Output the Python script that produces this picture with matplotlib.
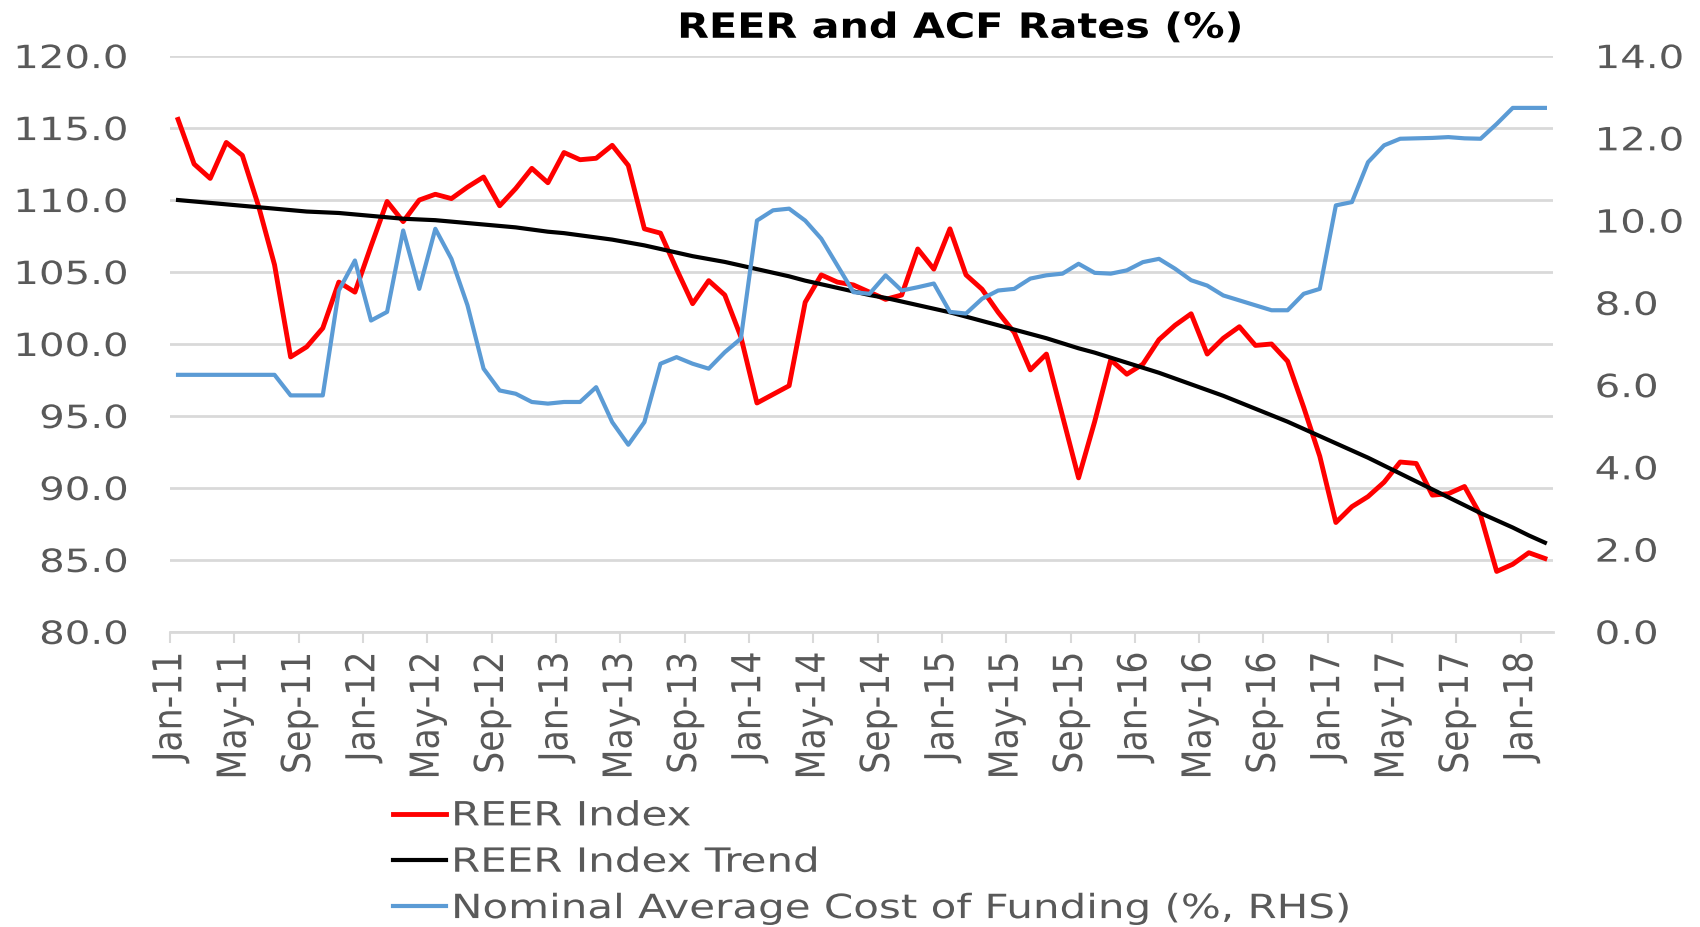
import matplotlib
matplotlib.use("Agg")
import matplotlib.pyplot as plt
import matplotlib.patheffects as pe
from matplotlib.transforms import Affine2D
import numpy as np

# monthly data, Jan-11 .. Feb-18
months = ["Jan", "Feb", "Mar", "Apr", "May", "Jun", "Jul", "Aug", "Sep", "Oct", "Nov", "Dec"]
dates = [f"{months[i % 12]}-{11 + i // 12}" for i in range(86)]

reer = [115.6, 112.5, 111.5, 114.0, 113.1, 109.6, 105.5, 99.1, 99.8, 101.1,
        104.3, 103.6, 106.8, 109.9, 108.5, 110.0, 110.4, 110.1, 110.9, 111.6,
        109.6, 110.8, 112.2, 111.2, 113.3, 112.8, 112.9, 113.8, 112.4, 108.0,
        107.7, 105.2, 102.8, 104.4, 103.4, 100.5, 95.9, 96.5, 97.1, 102.9,
        104.8, 104.3, 104.1, 103.6, 103.1, 103.4, 106.6, 105.2, 108.0, 104.8,
        103.8, 102.2, 100.8, 98.2, 99.3, 95.0, 90.7, 94.6, 98.9, 97.9,
        98.6, 100.3, 101.3, 102.1, 99.3, 100.4, 101.2, 99.9, 100.0, 98.8,
        95.6, 92.2, 87.6, 88.7, 89.4, 90.4, 91.8, 91.7, 89.5, 89.6,
        90.1, 88.1, 84.2, 84.7, 85.5, 85.1]

trend = [110.0, 109.9, 109.8, 109.7, 109.6, 109.5, 109.4, 109.3, 109.2, 109.15,
         109.1, 109.0, 108.9, 108.8, 108.7, 108.65, 108.6, 108.5, 108.4, 108.3,
         108.2, 108.1, 107.95, 107.8, 107.7, 107.55, 107.4, 107.25, 107.05, 106.85,
         106.6, 106.35, 106.1, 105.9, 105.7, 105.45, 105.2, 104.95, 104.7, 104.4,
         104.15, 103.9, 103.65, 103.4, 103.2, 102.95, 102.7, 102.45, 102.2, 101.9,
         101.6, 101.3, 101.0, 100.7, 100.4, 100.05, 99.7, 99.4, 99.05, 98.7,
         98.35, 98.0, 97.6, 97.2, 96.8, 96.4, 95.95, 95.5, 95.05, 94.6,
         94.1, 93.6, 93.1, 92.6, 92.1, 91.55, 91.0, 90.45, 89.9, 89.35,
         88.8, 88.25, 87.75, 87.25, 86.7, 86.2]

acf = [6.25, 6.25, 6.25, 6.25, 6.25, 6.25, 6.25, 5.75, 5.75, 5.75,
       8.3, 9.03, 7.57, 7.78, 9.76, 8.34, 9.8, 9.07, 7.94, 6.4,
       5.87, 5.79, 5.59, 5.55, 5.59, 5.59, 5.95, 5.1, 4.55, 5.1,
       6.52, 6.68, 6.52, 6.4, 6.8, 7.13, 10.0, 10.25, 10.29, 10.0,
       9.56, 8.91, 8.26, 8.22, 8.67, 8.3, 8.38, 8.47, 7.78, 7.74,
       8.1, 8.3, 8.34, 8.59, 8.67, 8.71, 8.95, 8.73, 8.71, 8.79,
       8.99, 9.07, 8.83, 8.55, 8.42, 8.18, 8.06, 7.94, 7.82, 7.82,
       8.22, 8.34, 10.37, 10.45, 11.42, 11.83, 11.99, 12.0, 12.01, 12.03,
       12.0, 11.99, 12.35, 12.74, 12.74, 12.74]

grey = "#595959"
plt.rcParams['font.family'] = ['DejaVu Sans']


# the original text is drawn wider than DejaVu Sans, stretch the glyphs
class Stretch(pe.AbstractPathEffect):
    def __init__(self, sx=1.0, sy=1.0, pivot="left"):
        super().__init__()
        self.sx, self.sy, self.pivot = sx, sy, pivot

    def draw_path(self, renderer, gc, tpath, affine, rgbFace=None):
        ext = tpath.get_extents()
        px = {"left": 0.0, "center": (ext.x0 + ext.x1) / 2, "right": ext.x1}[self.pivot]
        py = (ext.y0 + ext.y1) / 2
        st = Affine2D().translate(-px, -py).scale(self.sx, self.sy).translate(px, py)
        renderer.draw_path(gc, tpath, st + affine, rgbFace)


fig = plt.figure(figsize=(17, 9.28), dpi=100)
ax = fig.add_axes([0.1, 0.318, 0.8135, 0.6205])
ax2 = ax.twinx()

x = np.arange(len(dates))
l1, = ax.plot(x, reer, color="#ff0000", lw=3.5, label="REER Index", zorder=3)
l2, = ax.plot(x, trend, color="#000000", lw=3.0, label="REER Index Trend", zorder=3)
l3, = ax2.plot(x, acf, color="#5b9bd5", lw=3.0,
               label="Nominal Average Cost of Funding (%, RHS)")

ax.set_ylim(80, 120)
ax.set_yticks(np.arange(80, 121, 5))
ax.set_yticklabels([f"{v:.1f}" for v in np.arange(80, 121, 5)])
ax2.set_ylim(0, 14)
ax2.set_yticks(np.arange(0, 15, 2))
ax2.set_yticklabels([f"{v:.1f}" for v in np.arange(0, 15, 2)])

ax.set_xlim(-0.5, len(dates) - 0.5)
ticks = np.arange(0, len(dates), 4)
ax.set_xticks(ticks - 0.5)
ax.set_xticklabels([dates[i] for i in ticks], rotation=90)

ax.grid(axis="y", color="#d9d9d9", lw=2)
ax.set_axisbelow(True)
for a in (ax, ax2):
    for s in ("left", "right", "top"):
        a.spines[s].set_visible(False)
ax.spines["bottom"].set_color("#d9d9d9")
ax.spines["bottom"].set_linewidth(2)
ax2.spines["bottom"].set_visible(False)

ax.tick_params(axis="y", length=0, pad=30, labelsize=23, labelcolor=grey)
ax2.tick_params(axis="y", length=0, pad=30, labelsize=23, labelcolor=grey)
ax.tick_params(axis="x", length=8, width=1.5, color="#d9d9d9", pad=6,
               labelsize=25, labelcolor=grey)

for t in ax.get_yticklabels():
    t.set_path_effects([Stretch(1.26, 1.0, "right")])
for t in ax2.get_yticklabels():
    t.set_path_effects([Stretch(1.26, 1.0, "left")])
for t in ax.get_xticklabels():
    t.set_path_effects([Stretch(1.0, 1.15, "right")])

title = fig.text(0.565, 0.969, "REER and ACF Rates (%)", ha="center", va="center",
                 fontsize=25, fontweight="bold", color="#000000")
title.set_path_effects([Stretch(1.19, 1.0, "center")])

leg = fig.legend(handles=[l1, l2, l3], loc="upper left", bbox_to_anchor=(0.231, 0.1375),
                 frameon=False, fontsize=24, handlelength=1.6, handletextpad=0.15,
                 labelspacing=0.4, borderpad=0, borderaxespad=0, labelcolor=grey)
for t in leg.get_texts():
    t.set_path_effects([Stretch(1.26, 1.0, "left")])

fig.savefig("out.png", dpi=100)
